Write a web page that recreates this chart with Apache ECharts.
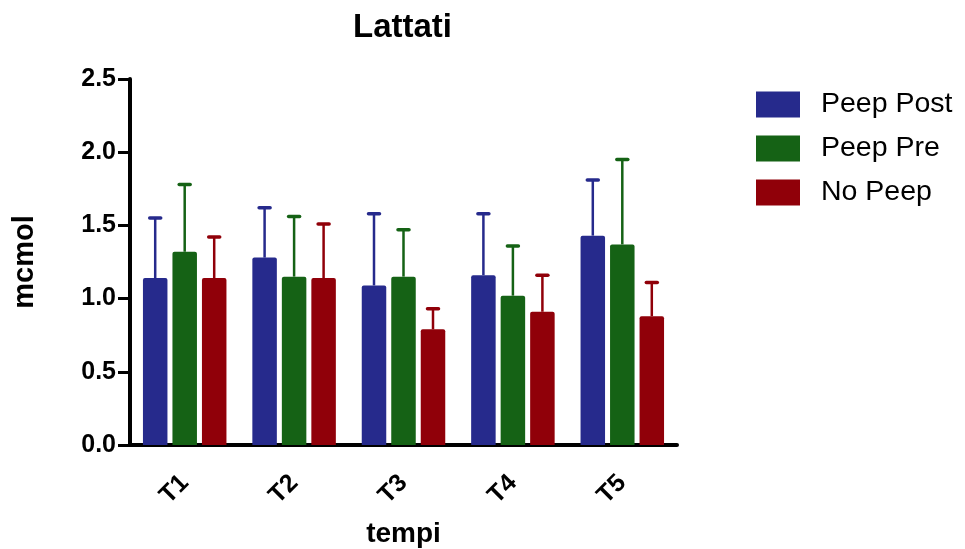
<!DOCTYPE html>
<html>
<head>
<meta charset="utf-8">
<script src="https://cdn.jsdelivr.net/npm/echarts@6/dist/echarts.min.js"></script>
<style>
  html, body { margin: 0; padding: 0; background: #fff; }
  #chart { width: 965px; height: 549px; }
</style>
</head>
<body>
<div id="chart"></div>
<script>
// Lactate levels (mcmol) at five time points, mean with upper SD whisker
const categories = ['T1', 'T2', 'T3', 'T4', 'T5'];
const seriesNames = ['Peep Post', 'Peep Pre', 'No Peep'];
const peepPostMean = [1.14, 1.28, 1.09, 1.16, 1.43];
const peepPostUpper = [1.55, 1.62, 1.58, 1.58, 1.81];
const peepPreMean = [1.32, 1.15, 1.15, 1.02, 1.37];
const peepPreUpper = [1.78, 1.56, 1.47, 1.36, 1.95];
const noPeepMean = [1.14, 1.14, 0.79, 0.91, 0.88];
const noPeepUpper = [1.42, 1.51, 0.93, 1.16, 1.11];
const yTicks = ['0.0', '0.5', '1.0', '1.5', '2.0', '2.5'];

const colors = ['#262a8c', '#156215', '#900009'];
const BAR_W = 24.5;
const BAR_GAP = 5;
const FONT = 'Liberation Sans, Arial, sans-serif';

const means = [peepPostMean, peepPreMean, noPeepMean];
const uppers = [peepPostUpper, peepPreUpper, noPeepUpper];

const chart = echarts.init(document.getElementById('chart'));

const barSeries = seriesNames.map((name, i) => ({
  name: name,
  type: 'bar',
  data: means[i],
  barWidth: BAR_W,
  barGap: (BAR_GAP / BAR_W * 100) + '%',
  itemStyle: { color: colors[i], borderRadius: [2, 2, 0, 0] },
  z: 2
}));

// upper whiskers with caps, offset to sit on each bar of the group
const errorSeries = seriesNames.map((name, i) => ({
  name: name + ' SD',
  type: 'custom',
  data: means[i].map((m, k) => [k, m, uppers[i][k]]),
  encode: { x: 0, y: [1, 2] },
  z: 3,
  renderItem: function (params, api) {
    const k = api.value(0);
    const offset = (i - 1) * (BAR_W + BAR_GAP);
    const base = api.coord([k, api.value(1)]);
    const top = api.coord([k, api.value(2)]);
    const x = base[0] + offset;
    const capHalf = 5.5;
    return {
      type: 'group',
      children: [
        { type: 'line', shape: { x1: x, y1: base[1], x2: x, y2: top[1] }, style: { stroke: colors[i], lineWidth: 2.5 } },
        { type: 'line', shape: { x1: x - capHalf, y1: top[1], x2: x + capHalf, y2: top[1] }, style: { stroke: colors[i], lineWidth: 3.5, lineCap: 'round' } }
      ]
    };
  }
}));

chart.setOption({
  animation: false,
  backgroundColor: '#fff',
  title: {
    text: 'Lattati',
    left: 353,
    top: 11,
    padding: 0,
    textStyle: { fontFamily: FONT, fontSize: 33, fontWeight: 'bold', color: '#000' }
  },
  legend: {
    data: seriesNames,
    orient: 'vertical',
    left: 756,
    top: 90,
    padding: 0,
    icon: 'rect',
    itemWidth: 44,
    itemHeight: 26,
    itemGap: 15,
    textStyle: { fontFamily: FONT, fontSize: 28.5, color: '#000', padding: [0, 0, 0, 16] }
  },
  grid: { left: 130, right: 288, top: 79, bottom: 104, outerBoundsMode: 'none' },
  xAxis: {
    type: 'category',
    data: categories,
    name: 'tempi',
    nameLocation: 'middle',
    nameGap: 75,
    nameTextStyle: { fontFamily: FONT, fontSize: 28, fontWeight: 'bold', color: '#000' },
    axisLine: { lineStyle: { color: '#000', width: 4 } },
    axisTick: { alignWithLabel: true, length: 9, lineStyle: { color: '#000', width: 3 } },
    axisLabel: { rotate: 45, margin: 34, fontFamily: FONT, fontSize: 25, fontWeight: 'bold', color: '#000' }
  },
  yAxis: {
    type: 'value',
    min: 0,
    max: 2.5,
    interval: 0.5,
    name: 'mcmol',
    nameLocation: 'middle',
    nameGap: 91,
    nameTextStyle: { fontFamily: FONT, fontSize: 29, fontWeight: 'bold', color: '#000' },
    splitLine: { show: false },
    axisLine: { show: true, lineStyle: { color: '#000', width: 4 } },
    axisTick: { show: true, length: 12, lineStyle: { color: '#000', width: 3 } },
    axisLabel: {
      margin: 14,
      fontFamily: FONT, fontSize: 25, fontWeight: 'bold', color: '#000',
      formatter: function (v) { return yTicks[Math.round(v / 0.5)]; }
    }
  },
  series: barSeries.concat(errorSeries)
});
</script>
</body>
</html>
